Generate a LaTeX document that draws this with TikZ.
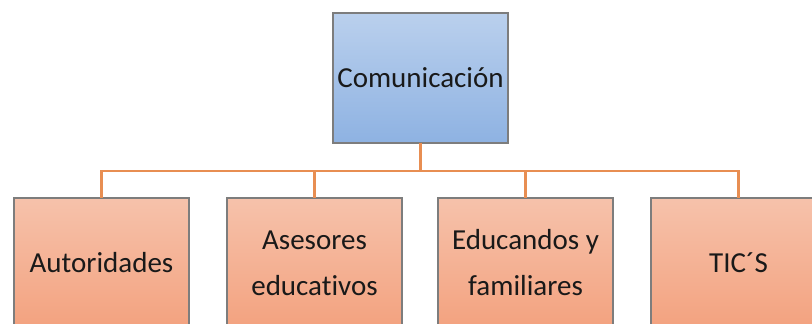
\documentclass[tikz,border=0pt]{standalone}
\usepackage{fontspec}
\setmainfont{Carlito}[Ligatures=NoCommon]
\definecolor{bluetop}{RGB}{186,208,237}
\definecolor{bluebot}{RGB}{142,178,226}
\definecolor{salmontop}{RGB}{246,194,171}
\definecolor{salmonbot}{RGB}{243,162,127}
\definecolor{boxborder}{RGB}{125,125,125}
\definecolor{connorange}{RGB}{232,142,82}
\definecolor{textcol}{RGB}{25,25,25}
\begin{document}
\begin{tikzpicture}[x=1pt,y=-1pt,
  box/.style={draw=boxborder, line width=1.4pt, minimum width=175pt, minimum height=130pt,
    anchor=north west, inner sep=0pt, outer sep=0pt, align=center, text=textcol,
    font=\fontsize{29}{46}\selectfont},
  topbox/.style={box, top color=bluetop, bottom color=bluebot},
  subbox/.style={box, top color=salmontop, bottom color=salmonbot},
  conn/.style={draw=connorange, line width=2.6pt}]
\clip (0,0) rectangle (812,324);
\fill[white] (0,0) rectangle (812,324);
\node[topbox] (top) at (333,13) {Comunicación};
\node[subbox] (a) at (14,198) {Autoridades};
\node[subbox] (b) at (227,198) {Asesores\\educativos};
\node[subbox] (c) at (438,198) {Educandos y\\familiares};
\node[subbox] (d) at (651,198) {TIC´S};
\coordinate (h) at (0,171);
\coordinate (j) at (top.south |- h);
\draw[conn] (top.south) -- (j);
\draw[conn] (j) -| (a.north);
\draw[conn] (j) -| (b.north);
\draw[conn] (j) -| (c.north);
\draw[conn] (j) -| (d.north);
\end{tikzpicture}
\end{document}
